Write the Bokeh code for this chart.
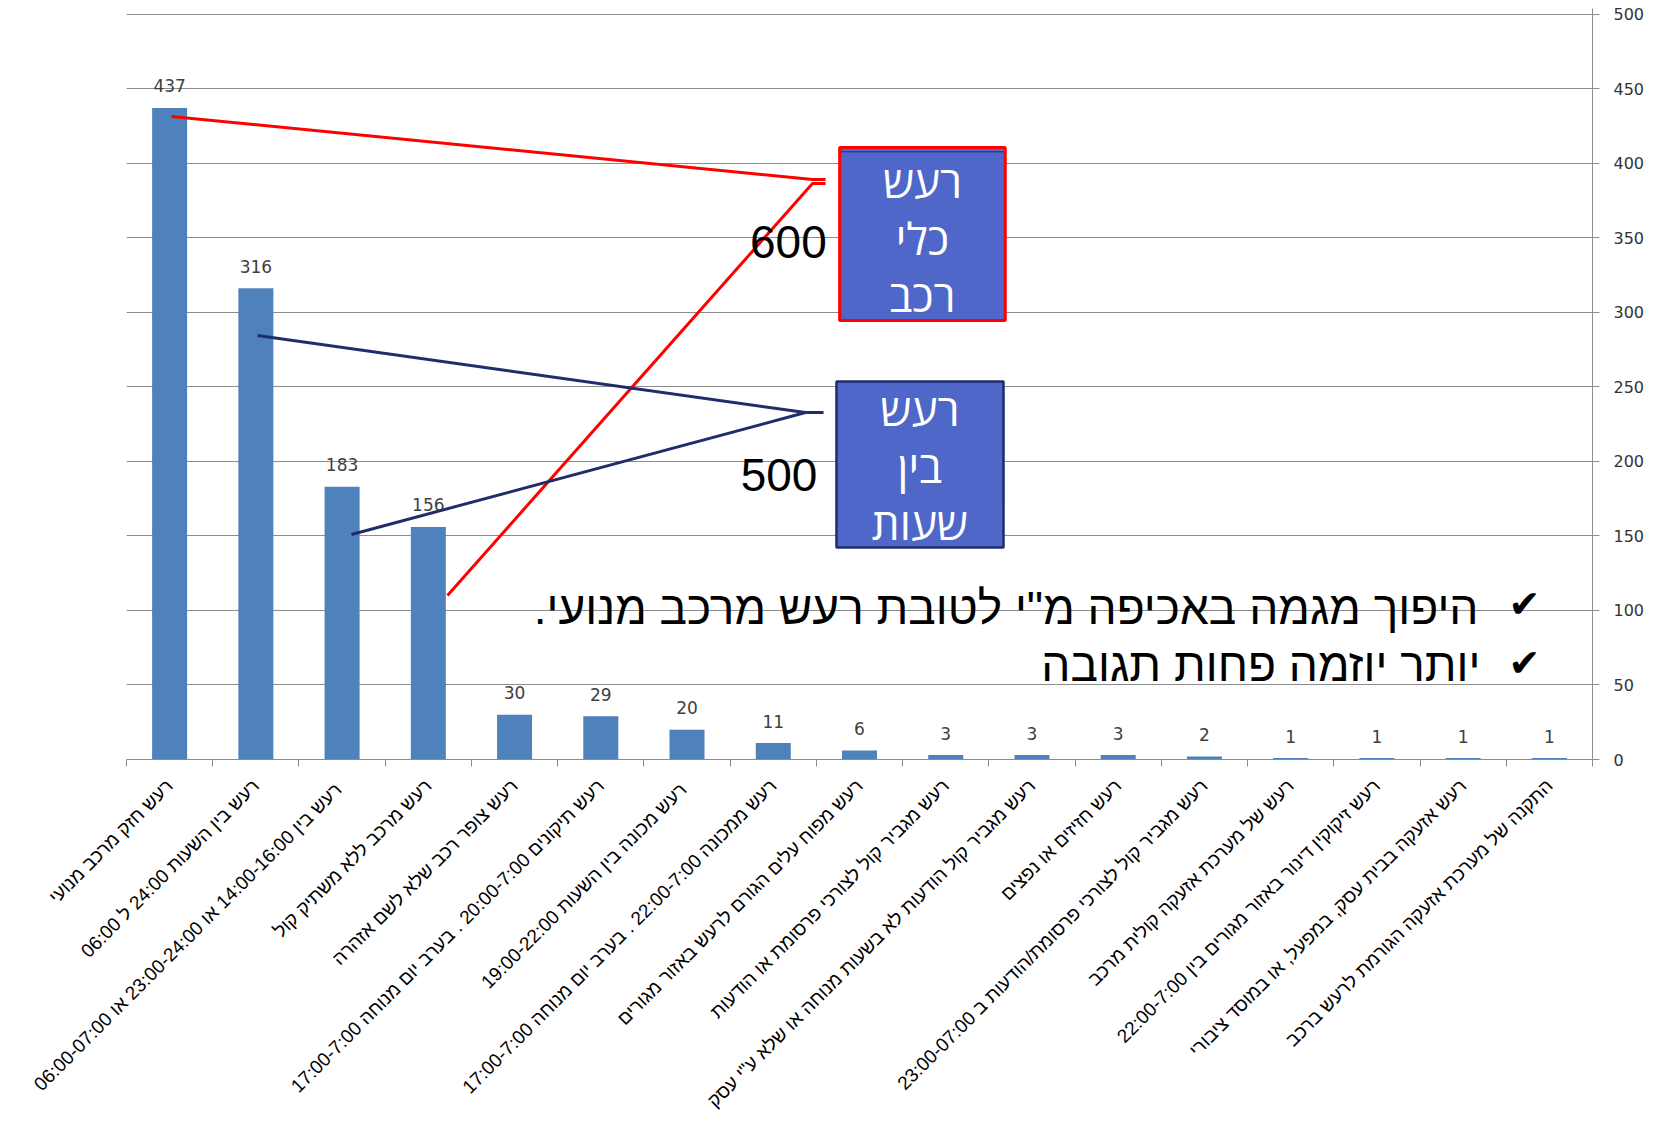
from math import pi
from bokeh.plotting import figure
from bokeh.models import Range1d, FixedTicker, ColumnDataSource
from bokeh.core.properties import value
from bokeh.embed import file_html
from bokeh.resources import INLINE

# ---------------- data ----------------
categories = [
    "רעש חזק מרכב מנועי",
    "רעש בין השעות 24:00 ל 06:00",
    "רעש בין 14:00-16:00  או 23:00-24:00 או 06:00-07:00",
    "רעש מרכב ללא משתיק קול",
    "רעש צופר רכב שלא לשם אזהרה",
    "רעש תיקונים 20:00-7:00 . בערב יום מנוחה 17:00-7:00",
    "רעש מכונה בין השעות  19:00-22:00",
    "רעש ממכונה 22:00-7:00 . בערב יום מנוחה 17:00-7:00",
    "רעש מפוח עלים הגורם לרעש באזור מגורים",
    "רעש מגביר קול לצורכי פרסומת או הודעות",
    "רעש מגביר קול הודעות לא בשעות מנוחה או שלא ע\"י עסק",
    "רעש חזיזים או נפצים",
    "רעש מגביר קול לצורכי פרסומת/הודעות ב 23:00-07:00",
    "רעש של מערכת אזעקה קולית מרכב",
    "רעש זיקוקין דינור באזור מגורים בין 22:00-7:00",
    "רעש אזעקה בבית עסק, במפעל, או במוסד ציבורי",
    "התקנה של מערכת אזעקה הגורמת לרעש ברכב",
]
counts = [437, 316, 183, 156, 30, 29, 20, 11, 6, 3, 3, 3, 2, 1, 1, 1, 1]
y_ticks = [0, 50, 100, 150, 200, 250, 300, 350, 400, 450, 500]

box_vehicle_lines = ["רעש", "כלי", "רכב"]
box_hours_lines = ["רעש", "בין", "שעות"]
box_totals = ["600", "500"]
bullet_lines = ["היפוך מגמה באכיפה מ\"י לטובת רעש מרכב מנועי.\u200f", "יותר יוזמה פחות תגובה"]
check_mark = "✔"

# ---------------- layout ----------------
BAR_BLUE = "#4F81BD"
GRID = "#8C8C8C"
BOX_BLUE = "#4F67C9"

n = len(categories)
centers = [i + 0.5 for i in range(n)]
bounds = [float(i) for i in range(n + 1)]

p = figure(
    width=1650, height=1115,
    frame_width=1466, frame_height=751,
    x_range=Range1d(0, n), y_range=Range1d(0, 503.7),
    y_axis_location="right",
    output_backend="svg", toolbar_location=None,
    min_border_left=126, min_border_top=8, min_border_right=10, min_border_bottom=2,
)
p.outline_line_color = None
p.background_fill_color = "white"

# x axis (category labels, boundary ticks)
xax = p.xaxis[0]
xax.ticker = FixedTicker(ticks=centers, minor_ticks=bounds)
xax.major_label_overrides = {c: lab for c, lab in zip(centers, categories)}
xax.major_label_orientation = pi / 4
xax.major_tick_out = 0
xax.major_tick_in = 0
xax.minor_tick_out = 7
xax.minor_tick_in = 0
xax.minor_tick_line_color = GRID
xax.axis_line_color = GRID
xax.major_label_text_font = "Liberation Sans"
xax.major_label_text_font_size = "19px"
xax.major_label_text_color = "#000000"
xax.major_label_standoff = 16

# right y axis
yax = p.yaxis[0]
yax.ticker = FixedTicker(ticks=y_ticks, minor_ticks=[])
yax.major_tick_out = 7
yax.major_tick_in = 0
yax.major_tick_line_color = GRID
yax.axis_line_color = GRID
yax.major_label_text_font = "DejaVu Sans"
yax.major_label_text_font_size = "16px"
yax.major_label_text_color = "#333333"
yax.major_label_standoff = 14

p.xgrid.visible = False
p.ygrid.ticker = FixedTicker(ticks=y_ticks)
p.ygrid.grid_line_color = GRID
p.ygrid.grid_line_width = 1

src = ColumnDataSource(dict(x=centers, top=counts, label=[str(v) for v in counts]))
p.vbar(x="x", top="top", width=0.406, source=src, fill_color=BAR_BLUE, line_color=None)
p.text(x="x", y="top", text="label", source=src, text_align="center",
       text_baseline="alphabetic", y_offset=-22, text_font=value("DejaVu Sans"),
       text_font_size="17px", text_color="#404040")

# ---------------- annotations ----------------
# connector lines (x in category slots, y in count units)
p.line([0.52, 7.955, 8.106], [431.3, 389.0, 389.0], line_color="#FF0000", line_width=3)
p.line([3.722, 7.955, 8.106], [110.0, 386.3, 386.3], line_color="#FF0000", line_width=3)
p.line([1.519, 7.874, 8.083], [284.4, 232.7, 232.7], line_color="#1F2D6B", line_width=3)
p.line([2.609, 7.874], [150.9, 232.7], line_color="#1F2D6B", line_width=3)

# boxes
p.quad(left=[8.27], right=[10.19], top=[410.5], bottom=[294.4],
       fill_color=BOX_BLUE, line_color="#FF0000", line_width=3)
p.line([8.29, 10.17], [407.6, 407.6], line_color="#1F2D6B", line_width=1)
p.quad(left=[8.233], right=[10.17], top=[253.5], bottom=[142.2],
       fill_color=BOX_BLUE, line_color="#1F2D6B", line_width=2.5)

p.text(x=[9.23] * 3, y=[388.3, 349.9, 311.5], text=box_vehicle_lines,
       text_align="center", text_baseline="alphabetic",
       text_font=value("Open Sans"), text_font_size="44px", text_color="white")
p.text(x=[9.20] * 3, y=[235.4, 197.0, 158.6], text=box_hours_lines,
       text_align="center", text_baseline="alphabetic",
       text_font=value("Open Sans"), text_font_size="44px", text_color="white")

p.text(x=[8.12, 8.012], y=[347.0, 190.5], text=box_totals,
       text_align="right", text_baseline="middle",
       text_font=value("Liberation Sans"), text_font_size="46px", text_color="black")

p.text(x=[15.678, 15.70], y=[101.5, 63.3], text=bullet_lines,
       text_align="right", text_baseline="alphabetic",
       text_font=value("Liberation Sans"), text_font_size="46px", text_color="black")
p.text(x=[16.211, 16.211], y=[104.0, 65.0], text=[check_mark, check_mark],
       text_align="center", text_baseline="alphabetic",
       text_font=value("DejaVu Sans"), text_font_size="38px",
       text_color="black")

open("out.html", "w").write(file_html(p, INLINE))
